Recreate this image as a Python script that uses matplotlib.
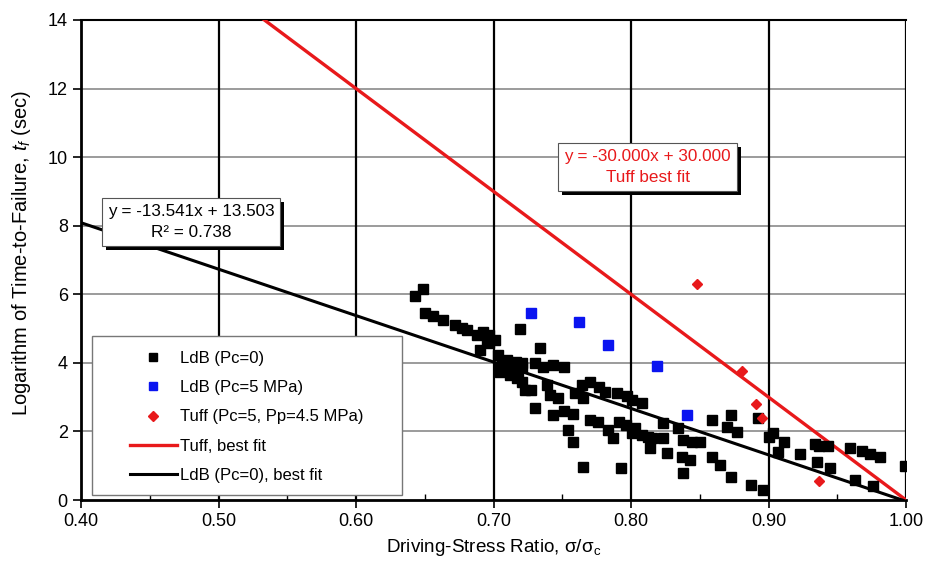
"""
Time-to-failure vs driving-stress ratio with best-fit lines.
"""

import matplotlib
matplotlib.use("Agg")
import matplotlib.pyplot as plt
from matplotlib.patches import Rectangle
from matplotlib.transforms import IdentityTransform
import numpy as np

plt.rcParams["font.family"] = ["Liberation Sans", "DejaVu Sans"]
plt.rcParams["mathtext.fontset"] = "custom"
plt.rcParams["mathtext.rm"] = "Liberation Sans"
plt.rcParams["mathtext.it"] = "Liberation Sans:italic"

# LdB (Pc=0) measurements
ldb0_x = [0.643, 0.649, 0.650, 0.656, 0.663, 0.672, 0.677, 0.681, 0.688, 0.692,
          0.697, 0.701, 0.690, 0.703, 0.706, 0.705, 0.712, 0.713, 0.718, 0.721,
          0.723, 0.719, 0.734, 0.730, 0.736, 0.743, 0.751, 0.727, 0.739, 0.741,
          0.747, 0.730, 0.743, 0.751, 0.758, 0.754, 0.758, 0.765, 0.759, 0.765,
          0.764, 0.770, 0.777, 0.781, 0.770, 0.776, 0.783, 0.787, 0.791, 0.796,
          0.790, 0.797, 0.801, 0.808, 0.793, 0.803, 0.808, 0.814, 0.823, 0.834,
          0.815, 0.823, 0.826, 0.838, 0.844, 0.850, 0.837, 0.843, 0.838, 0.859,
          0.873, 0.870, 0.877, 0.892, 0.900, 0.903, 0.859, 0.865, 0.873, 0.887,
          0.896, 0.911, 0.907, 0.923, 0.934, 0.937, 0.943, 0.935, 0.945, 0.959,
          0.968, 0.974, 0.981, 0.963, 0.976, 0.999, 0.812, 0.801, 0.695, 0.697,
          0.710, 0.716, 0.721, 0.712, 0.717, 0.721, 0.705]
ldb0_y = [5.95, 6.15, 5.45, 5.37, 5.25, 5.10, 5.02, 4.96, 4.81, 4.90,
          4.81, 4.67, 4.37, 4.23, 4.02, 3.85, 3.94, 3.70, 3.65, 4.00,
          3.21, 4.99, 4.43, 4.00, 3.88, 3.94, 3.88, 3.21, 3.35, 3.06,
          2.97, 2.68, 2.48, 2.60, 2.51, 2.04, 1.69, 0.96, 3.12, 2.97,
          3.35, 3.44, 3.30, 3.15, 2.33, 2.27, 2.04, 1.81, 2.27, 2.19,
          3.12, 3.03, 2.92, 2.83, 0.93, 2.10, 1.90, 1.52, 2.25, 2.10,
          1.81, 1.81, 1.37, 1.75, 1.69, 1.69, 1.25, 1.17, 0.79, 2.33,
          2.48, 2.13, 1.98, 2.39, 1.84, 1.95, 1.25, 1.02, 0.67, 0.44,
          0.29, 1.69, 1.40, 1.34, 1.63, 1.57, 1.57, 1.11, 0.93, 1.52,
          1.43, 1.34, 1.25, 0.58, 0.41, 0.99, 1.84, 1.95, 4.67, 4.58,
          4.08, 4.02, 3.88, 3.65, 3.56, 3.44, 3.73]

# LdB (Pc=5 MPa)
ldb5_x = [0.727, 0.762, 0.783, 0.819, 0.841]
ldb5_y = [5.45, 5.19, 4.52, 3.91, 2.48]

# Tuff (Pc=5, Pp=4.5 MPa)
tuff_x = [0.848, 0.881, 0.891, 0.895, 0.937]
tuff_y = [6.30, 3.76, 2.80, 2.39, 0.55]

# best-fit coefficients
ldb_slope, ldb_icpt, ldb_r2 = -13.541, 13.503, 0.738
tuff_slope, tuff_icpt = -30.000, 30.000

x_ticks = [0.40, 0.50, 0.60, 0.70, 0.80, 0.90, 1.00]
y_ticks = [0, 2, 4, 6, 8, 10, 12, 14]

RED = "#e8191b"
BLUE = "#0a14f0"


def shadow_box(fig, ax, x, y, text, color):
    # white box with a black drop shadow to the lower right
    t = ax.text(x, y, text, ha="center", va="center", fontsize=12.3,
                color=color, linespacing=1.45,
                bbox=dict(boxstyle="square,pad=0.35", fc="white",
                          ec="#555555", lw=0.8),
                zorder=7)
    fig.canvas.draw()
    bb = t.get_bbox_patch().get_window_extent()
    ax.add_patch(Rectangle((bb.x0 + 4, bb.y0 - 4), bb.width, bb.height,
                           transform=IdentityTransform(), fc="black",
                           ec="none", zorder=6, clip_on=False))


def main():
    fig = plt.figure(figsize=(9.28, 5.70), dpi=100)
    ax = fig.add_axes([0.0873, 0.1228, 0.8890, 0.8422])

    xs = np.linspace(0.40, 1.00, 200)
    ax.plot(xs, tuff_slope * xs + tuff_icpt, color=RED, lw=2.4, zorder=3,
            label="Tuff, best fit")
    ax.plot(xs, ldb_slope * xs + ldb_icpt, color="black", lw=2.2, zorder=3,
            label="LdB (Pc=0), best fit")

    h1 = ax.plot(ldb0_x, ldb0_y, "s", color="black", ms=7.5, zorder=4,
                 label="LdB (Pc=0)")[0]
    h2 = ax.plot(ldb5_x, ldb5_y, "s", color=BLUE, ms=7.5, zorder=4,
                 label="LdB (Pc=5 MPa)")[0]
    h3 = ax.plot(tuff_x, tuff_y, "D", color=RED, ms=5.5, zorder=5,
                 label="Tuff (Pc=5, Pp=4.5 MPa)")[0]

    ax.set_xlim(0.40, 1.00)
    ax.set_ylim(0, 14)
    ax.set_xticks(x_ticks)
    ax.set_xticklabels([f"{v:.2f}" for v in x_ticks])
    ax.set_xticks(np.arange(0.45, 1.0, 0.1), minor=True)
    ax.set_yticks(y_ticks)
    ax.tick_params(axis="both", which="major", labelsize=13, direction="out",
                   length=6, width=1.2)
    ax.tick_params(axis="x", which="minor", direction="in", length=4, width=1)

    # grid: grey horizontals, black verticals
    for yv in y_ticks[1:-1]:
        ax.axhline(yv, color="#8a8a8a", lw=1.2, zorder=1)
    for xv in x_ticks[1:]:
        ax.axvline(xv, color="black", lw=1.6, zorder=1)

    for side in ["left", "bottom"]:
        ax.spines[side].set_linewidth(2)
    ax.spines["top"].set_linewidth(1.5)
    ax.spines["right"].set_visible(False)

    ax.set_xlabel(r"Driving-Stress Ratio, σ/σ$_{\rm c}$", fontsize=13.6,
                  labelpad=5)
    ax.set_ylabel(r"Logarithm of Time-to-Failure, $t_f$ (sec)", fontsize=14.5)
    ax.yaxis.set_label_coords(-0.058, 0.515)

    # legend frame drawn separately so it can be wider than its contents
    ax.add_patch(Rectangle((0.0133, 0.0104), 0.3758, 0.331,
                           transform=ax.transAxes, fc="white", ec="#777777",
                           lw=1.0, zorder=8))
    handles = [h1, h2, h3] + ax.get_lines()[:2]
    leg = ax.legend(handles=handles, loc="lower left",
                    bbox_to_anchor=(0.0594, 0.036), fontsize=12,
                    labelspacing=0.85, handlelength=2.8, handletextpad=0.2,
                    borderpad=0, borderaxespad=0, frameon=False,
                    markerscale=0.85)
    leg.set_zorder(9)

    shadow_box(fig, ax, 0.480, 8.11,
               f"y = {ldb_slope:.3f}x + {ldb_icpt:.3f}\nR² = {ldb_r2:.3f}",
               "black")
    shadow_box(fig, ax, 0.812, 9.71,
               f"y = {tuff_slope:.3f}x + {tuff_icpt:.3f}\nTuff best fit", RED)

    fig.savefig("out.png", dpi=100)
    plt.close(fig)


if __name__ == "__main__":
    main()
